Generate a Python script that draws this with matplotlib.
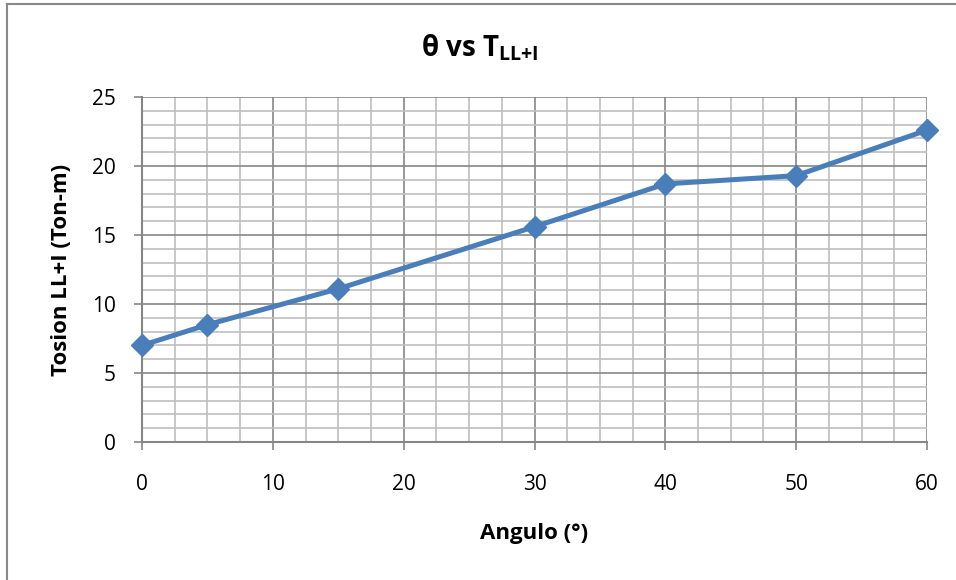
import matplotlib
matplotlib.use("Agg")
import matplotlib.pyplot as plt
from matplotlib.ticker import MultipleLocator
from matplotlib.lines import Line2D

plt.rcParams['font.family'] = ['Open Sans', 'DejaVu Sans']
plt.rcParams['mathtext.fontset'] = 'custom'
plt.rcParams['mathtext.bf'] = 'Open Sans:bold'
plt.rcParams['mathtext.rm'] = 'Open Sans'

angulo = [0, 5, 15, 30, 40, 50, 60]
torsion = [7.0, 8.5, 11.1, 15.6, 18.7, 19.3, 22.6]
x_ticks = [0, 10, 20, 30, 40, 50, 60]
y_ticks = [0, 5, 10, 15, 20, 25]

fig = plt.figure(figsize=(9.56, 5.80), dpi=100)
ax = fig.add_axes([142/956, (580-442)/580, (927-142)/956, (442-97)/580])

major_c = '#868686'
minor_c = '#bfbfbf'

ax.set_xlim(0, 60)
ax.set_ylim(0, 25)
ax.set_xticks(x_ticks)
ax.set_yticks(y_ticks)
ax.xaxis.set_minor_locator(MultipleLocator(2.5))
ax.yaxis.set_minor_locator(MultipleLocator(1))
ax.grid(which='minor', color=minor_c, linewidth=1.2, zorder=0)
ax.grid(which='major', color=major_c, linewidth=1.2, zorder=0)
ax.set_axisbelow(True)

for s in ['top', 'right']:
    ax.spines[s].set_visible(False)
for s in ['left', 'bottom']:
    ax.spines[s].set_color(major_c)
    ax.spines[s].set_linewidth(1.5)

ax.tick_params(axis='both', which='major', direction='out', length=6, width=1.2,
               color=major_c, labelsize=15, labelcolor='black')
ax.tick_params(axis='both', which='minor', length=0)
ax.tick_params(axis='x', pad=17)
ax.tick_params(axis='y', pad=13)

ax.plot(angulo, torsion, color='#4a7ebb', linewidth=3.6, marker='D',
        markersize=11, markerfacecolor='#4a7ebb', markeredgecolor='#4a7ebb',
        clip_on=False, zorder=3)

ax.set_xlabel('Angulo (°)', fontsize=16, fontweight='bold', labelpad=20)
ax.set_ylabel('Tosion LL+I (Ton-m)', fontsize=16, fontweight='bold', labelpad=14)

fig.text(480/956, 1 - 48/580, r'θ vs T$_{\mathbf{LL{+}I}}$', fontsize=20,
         fontweight='bold', ha='center', va='center')

# chart frame
fig.add_artist(Line2D([7/956, 1], [1 - 4/580, 1 - 4/580], color='#888888', linewidth=1.5))
fig.add_artist(Line2D([7/956, 7/956], [0, 1 - 4/580], color='#888888', linewidth=1.5))

fig.savefig('out.png', dpi=100)
